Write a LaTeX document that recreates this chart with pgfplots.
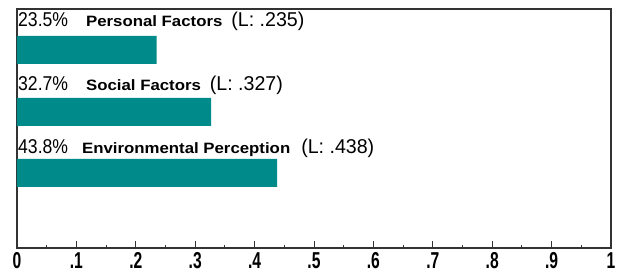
\documentclass[border=0pt]{standalone}
\usepackage{fontspec}
\setmainfont{Liberation Sans}
\newfontfamily\narrowfont[FakeStretch=0.88]{Liberation Sans}
\newfontfamily\parfont[FakeStretch=0.98]{Liberation Sans}
\newfontfamily\tickfont[FakeStretch=0.68]{Liberation Sans Bold}
\newfontfamily\widebold[FakeStretch=1.12]{Liberation Sans Bold}
\usepackage{pgfplots}
\pgfplotsset{compat=1.18}
\definecolor{barteal}{RGB}{0,138,138}
\begin{document}
\begin{tikzpicture}
\begin{axis}[
  scale only axis, width=594pt, height=239pt,
  xmin=0, xmax=1, ymin=0, ymax=239,
  xbar, bar width=28,
  ytick=\empty,
  xtick={0,0.1,0.2,0.3,0.4,0.5,0.6,0.7,0.8,0.9,1},
  xticklabels={0,.1,.2,.3,.4,.5,.6,.7,.8,.9,1},
  /pgf/number format/assume math mode=true,
  minor x tick num=1,
  xtick pos=bottom, tick align=inside,
  major tick length=7pt, minor tick length=3pt,
  every tick/.style={black!80, line width=0.9pt},
  x tick label style={font=\tickfont\fontsize{23}{23}\selectfont, inner sep=0pt, yshift=-4pt},
  axis line style={line width=1.3pt, black!80},
  clip=false,
]
\addplot[fill=barteal, draw=none] coordinates {(0.235,198) (0.327,136) (0.438,75)};
\node[anchor=base west, inner sep=0pt, xshift=1pt] at (axis cs:0,221) {{\narrowfont\fontsize{20}{20}\selectfont 23.5\%}\hspace{18pt}{\widebold\fontsize{15}{15}\selectfont Personal Factors}\hspace{9pt}{\parfont\fontsize{20}{20}\selectfont (L: .235)}};
\node[anchor=base west, inner sep=0pt, xshift=1pt] at (axis cs:0,157) {{\narrowfont\fontsize{20}{20}\selectfont 32.7\%}\hspace{18pt}{\widebold\fontsize{15}{15}\selectfont Social Factors}\hspace{9pt}{\parfont\fontsize{20}{20}\selectfont (L: .327)}};
\node[anchor=base west, inner sep=0pt, xshift=1pt] at (axis cs:0,94) {{\narrowfont\fontsize{20}{20}\selectfont 43.8\%}\hspace{14pt}{\widebold\fontsize{15}{15}\selectfont Environmental Perception}\hspace{11pt}{\parfont\fontsize{20}{20}\selectfont (L: .438)}};
\end{axis}
\path (current axis.south west) ++(-17pt,-27pt) coordinate (bbA);
\path (current axis.north east) ++(8pt,9pt) coordinate (bbB);
\useasboundingbox (bbA) rectangle (bbB);
\end{tikzpicture}
\end{document}
